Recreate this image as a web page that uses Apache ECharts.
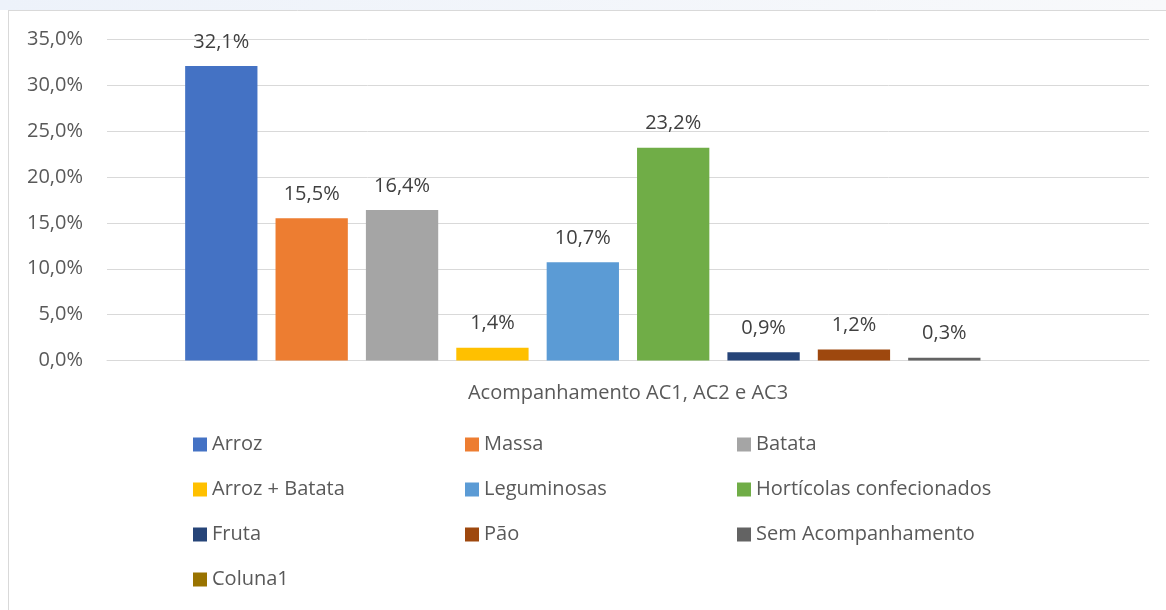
<!DOCTYPE html>
<html>
<head>
<meta charset="utf-8">
<script src="https://cdn.jsdelivr.net/npm/echarts@6/dist/echarts.min.js"></script>
<style>
html,body{margin:0;padding:0;background:#fff;}
#c{width:1166px;height:610px;}
</style>
</head>
<body>
<div id="c"></div>
<script>
var categories = ['Acompanhamento AC1, AC2 e AC3'];
var seriesNames = ['Arroz','Massa','Batata','Arroz + Batata','Leguminosas','Hortícolas confecionados','Fruta','Pão','Sem Acompanhamento','Coluna1'];
var seriesValues = [32.1, 15.5, 16.4, 1.4, 10.7, 23.2, 0.9, 1.2, 0.3, null];
var seriesColors = ['#4472C4','#ED7D31','#A5A5A5','#FFC000','#5B9BD5','#70AD47','#264478','#9E480E','#636363','#997300'];
var yTicks = {min: 0, max: 35, interval: 5};
var legendColumns = [
  ['Arroz','Arroz + Batata','Fruta','Coluna1'],
  ['Massa','Leguminosas','Pão'],
  ['Batata','Hortícolas confecionados','Sem Acompanhamento']
];

var FONT = '"Open Sans", sans-serif';
var fmt = function (v) { return v.toFixed(1).replace('.', ',') + '%'; };

var series = seriesNames.map(function (name, i) {
  var v = seriesValues[i];
  return {
    name: name,
    type: 'bar',
    barGap: '25%',
    barCategoryGap: '15%',
    itemStyle: {color: seriesColors[i]},
    label: {
      show: v !== null,
      position: 'top',
      distance: 14,
      color: '#404040',
      fontFamily: FONT,
      fontSize: 20,
      formatter: function (p) { return fmt(p.value); }
    },
    data: [v === null ? '-' : v]
  };
});

var legendLefts = [193, 465, 737];
var legends = legendColumns.map(function (col, i) {
  return {
    orient: 'vertical',
    left: legendLefts[i],
    top: 434,
    padding: 0,
    itemWidth: 14,
    itemHeight: 14,
    itemGap: 24,
    itemTextGap: 5,
    icon: 'rect',
    selectedMode: false,
    textStyle: {color: '#595959', fontFamily: FONT, fontSize: 20, lineHeight: 21},
    data: col
  };
});

var chart = echarts.init(document.getElementById('c'), null, {renderer: 'canvas'});
chart.setOption({
  animation: false,
  backgroundColor: '#ffffff',
  graphic: [
    {type: 'rect', shape: {x: 0, y: 0, width: 1166, height: 10}, style: {fill: new echarts.graphic.LinearGradient(0, 0, 1, 0, [{offset: 0, color: '#EDF2FA'}, {offset: 1, color: '#F8F9FB'}])}, silent: true},
    {type: 'line', shape: {x1: 8, y1: 10.5, x2: 1166, y2: 10.5}, style: {stroke: '#D9D9D9', lineWidth: 1}, silent: true},
    {type: 'line', shape: {x1: 8.5, y1: 10, x2: 8.5, y2: 610}, style: {stroke: '#D9D9D9', lineWidth: 1}, silent: true}
  ],
  grid: {left: 107, right: 17, top: 39.5, bottom: 249.5, containLabel: false},
  legend: legends,
  xAxis: {
    type: 'category',
    data: categories,
    axisLine: {show: true, lineStyle: {color: '#D9D9D9', width: 1}},
    axisTick: {show: false},
    axisLabel: {color: '#595959', fontFamily: FONT, fontSize: 20, margin: 23}
  },
  yAxis: {
    type: 'value',
    min: yTicks.min,
    max: yTicks.max,
    interval: yTicks.interval,
    axisLine: {show: false},
    axisTick: {show: false},
    splitLine: {lineStyle: {color: '#D9D9D9', width: 1}},
    axisLabel: {color: '#595959', fontFamily: FONT, fontSize: 20, margin: 24, formatter: function (v) { return fmt(v); }}
  },
  series: series
});
</script>
</body>
</html>
